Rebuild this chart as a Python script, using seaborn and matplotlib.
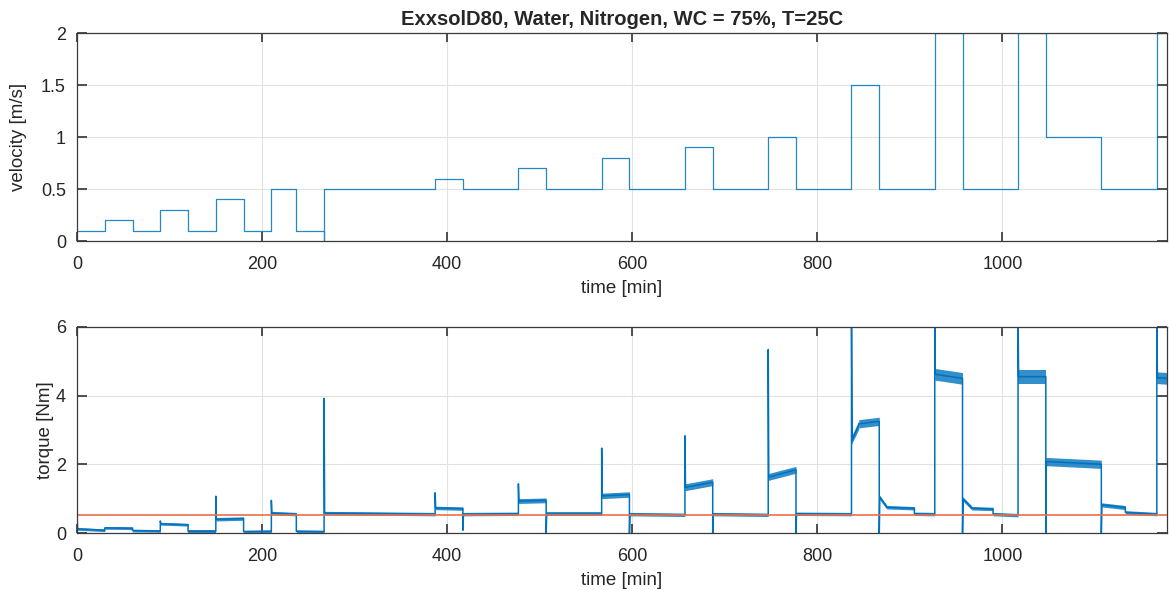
# %% libraries
import matplotlib
matplotlib.use('Agg')
import matplotlib.pyplot as plt
import matplotlib.ticker as mticker
import seaborn as sns

# %% data
t_end = 1178

# velocity set points: start time of each step [min] and value [m/s]
vel_start = [0, 30, 60, 90, 120, 150, 180, 210, 237, 267, 267, 387, 417, 477,
             507, 567, 597, 657, 687, 747, 777, 837, 867, 927, 957, 1017,
             1047, 1107, 1167]
vel_value = [0.1, 0.2, 0.1, 0.3, 0.1, 0.4, 0.1, 0.5, 0.1, 0.0, 0.5, 0.6, 0.5,
             0.7, 0.5, 0.8, 0.5, 0.9, 0.5, 1.0, 0.5, 1.5, 0.5, 2.0, 0.5, 2.0,
             1.0, 0.5, 2.0]

# torque segments: start time, level at start / end, spike or dip at start,
# and the half width of the noise band
trq_start = [0, 30, 60, 90, 120, 150, 180, 210, 237, 267, 387, 417, 477, 507,
             567, 597, 657, 687, 747, 777, 837, 845, 867, 875, 905, 927, 957,
             967, 990, 1017, 1047, 1107, 1133, 1167]
trq_lvl_a = [0.12, 0.15, 0.07, 0.27, 0.05, 0.40, 0.04, 0.58, 0.05, 0.58, 0.73,
             0.55, 0.93, 0.55, 1.08, 0.55, 1.33, 0.55, 1.63, 0.56, 2.70, 3.18,
             1.05, 0.75, 0.56, 4.62, 1.00, 0.72, 0.55, 4.55, 2.08, 0.82, 0.60,
             4.52]
trq_lvl_b = [0.08, 0.14, 0.06, 0.24, 0.05, 0.42, 0.05, 0.55, 0.04, 0.55, 0.71,
             0.56, 0.95, 0.55, 1.12, 0.53, 1.48, 0.53, 1.84, 0.55, 3.15, 3.25,
             0.76, 0.72, 0.55, 4.50, 0.73, 0.70, 0.52, 4.55, 2.00, 0.74, 0.55,
             4.50]
trq_kick = [0.5, None, None, 0.35, None, 1.07, None, 0.95, None, 3.92, 1.17,
            0.08, 1.43, 0.0, 2.47, 0.0, 2.83, 0.0, 5.34, 0.0, 6.5, None,
            0.0, None, None, 6.5, 0.0, None, None, 6.5, 0.0, 0.0, None, 6.5]
trq_noise = [0.04, 0.04, 0.04, 0.04, 0.04, 0.05, 0.04, 0.05, 0.04, 0.05, 0.05,
             0.05, 0.07, 0.05, 0.08, 0.05, 0.10, 0.05, 0.10, 0.05, 0.12, 0.12,
             0.06, 0.05, 0.05, 0.17, 0.06, 0.05, 0.05, 0.20, 0.12, 0.06, 0.05,
             0.17]

torque_limit = 0.52

title = 'ExxsolD80, Water, Nitrogen, WC = 75%, T=25C'

# %% build the plotted series from the tables
vx = vel_start + [t_end]
vy = vel_value + [vel_value[-1]]

trq_end = trq_start[1:] + [t_end]
tx, ty = [], []
for t0, t1, a, b, k in zip(trq_start, trq_end, trq_lvl_a, trq_lvl_b, trq_kick):
    if k is not None:
        tx += [t0, t0 + 0.6]
        ty += [k, a]
    else:
        tx.append(t0)
        ty.append(a)
    tx.append(t1)
    ty.append(b)

# %% style
sns.set_theme(style='ticks', rc={
    'axes.edgecolor': '#3a3a3a',
    'axes.linewidth': 0.9,
    'grid.color': '#e2e2e2',
    'grid.linewidth': 0.8,
    'xtick.direction': 'in',
    'ytick.direction': 'in',
    'xtick.top': True,
    'ytick.right': True,
    'xtick.major.size': 6.5,
    'ytick.major.size': 7.5,
    'xtick.major.pad': 11,
    'ytick.major.pad': 8,
})
plt.rcParams['font.family'] = ['Liberation Sans', 'DejaVu Sans']

blue = '#0072BD'
red = '#E8704A'
txt = '#262626'

fig = plt.figure(figsize=(11.69, 5.90), dpi=100)
ax1 = fig.add_axes([0.0659, 0.5915, 0.9324, 0.3525])
ax2 = fig.add_axes([0.0659, 0.0966, 0.9324, 0.3494])

# velocity
sns.lineplot(x=vx, y=vy, ax=ax1, color=blue, lw=0.9, alpha=0.85,
             estimator=None, sort=False, drawstyle='steps-post')

# torque: noise band + trace + limit
for t0, t1, a, b, n in zip(trq_start, trq_end, trq_lvl_a, trq_lvl_b, trq_noise):
    ax2.fill_between([t0, t1], [a - n, b - n], [a + n, b + n],
                     color=blue, lw=0, alpha=0.8)
sns.lineplot(x=tx, y=ty, ax=ax2, color=blue, lw=1.1, estimator=None,
             sort=False)
sns.lineplot(x=[0, t_end], y=[torque_limit, torque_limit], ax=ax2,
             color=red, lw=1.2, estimator=None, sort=False)

# axes
fmt = mticker.FormatStrFormatter('%g')
for ax in (ax1, ax2):
    ax.set_xlim(0, t_end)
    ax.set_xticks([0, 200, 400, 600, 800, 1000])
    ax.xaxis.set_major_formatter(fmt)
    ax.yaxis.set_major_formatter(fmt)
    ax.grid(True)
    ax.tick_params(labelsize=13, colors='#3a3a3a', labelcolor=txt)
    ax.set_xlabel('time [min]', fontsize=13.5, color=txt, labelpad=5)
    for s in ax.spines.values():
        s.set_visible(True)

ax1.set_ylim(0, 2)
ax1.set_yticks([0, 0.5, 1, 1.5, 2])
ax1.set_ylabel('velocity [m/s]', fontsize=13.5, color=txt, labelpad=10)
ax1.set_title(title, fontsize=14.5, fontweight='bold', pad=6)

ax2.set_ylim(0, 6)
ax2.set_yticks([0, 2, 4, 6])
ax2.set_ylabel('torque [Nm]', fontsize=13.5, color=txt, labelpad=1)

# save plot
plt.savefig('out.png', dpi=100)
